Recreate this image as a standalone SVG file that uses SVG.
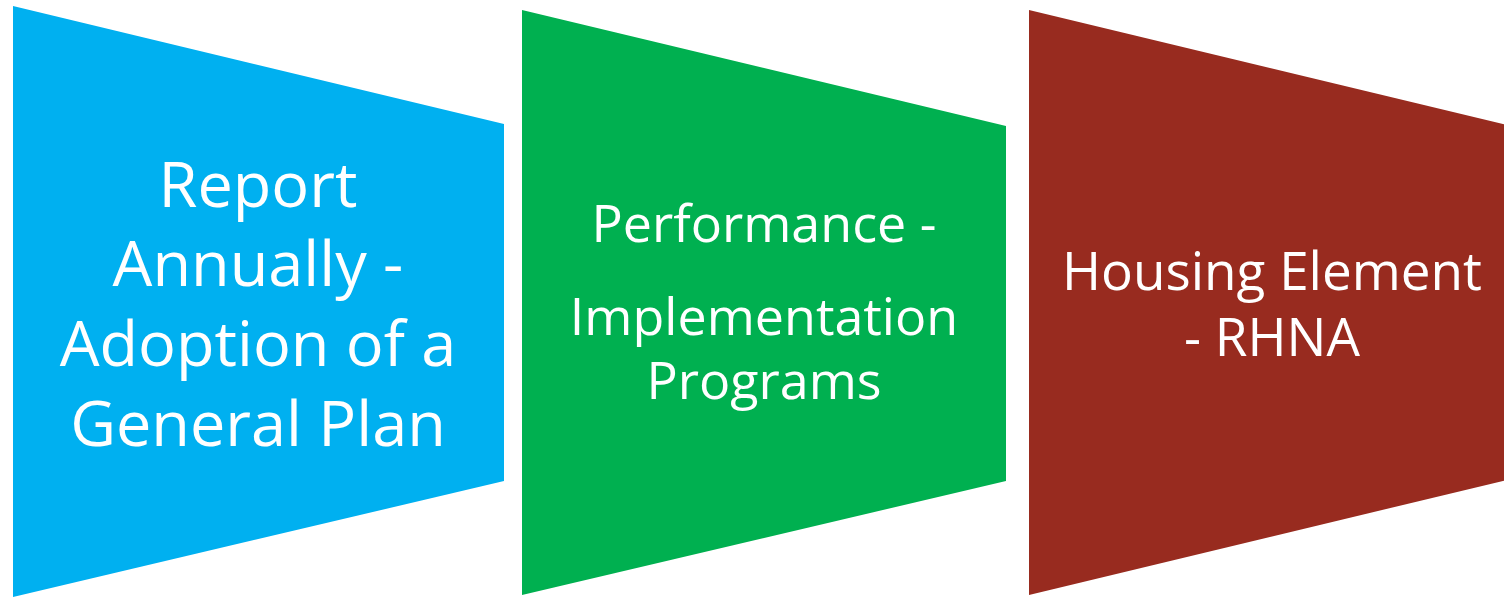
<svg xmlns="http://www.w3.org/2000/svg" width="1504" height="598" viewBox="0 0 1504 598">
  <style>
    .lbl { font-family: "Open Sans", "Noto Sans", "Liberation Sans", sans-serif; fill: #ffffff; text-anchor: middle; }
    .big { font-size: 63px; }
    .mid { font-size: 52px; }
    .red { font-size: 53px; }
  </style>
  <rect width="1504" height="598" fill="#ffffff"/>
  <g id="step-report">
    <polygon points="13,6 504,124 504,481 13,597" fill="#00b0f0"/>
    <text class="lbl big" x="258" y="207">Report</text>
    <text class="lbl big" x="258" y="286">Annually -</text>
    <text class="lbl big" x="258" y="366">Adoption of a</text>
    <text class="lbl big" x="258" y="446">General Plan</text>
  </g>
  <g id="step-performance">
    <polygon points="522,10 1006,126 1006,481 522,595" fill="#00b050"/>
    <text class="lbl mid" x="764" y="242">Performance -</text>
    <text class="lbl mid" x="764" y="335">Implementation</text>
    <text class="lbl mid" x="764" y="399">Programs</text>
  </g>
  <g id="step-housing">
    <polygon points="1029,10 1515,127 1515,478 1029,595" fill="#982b1f"/>
    <text class="lbl red" x="1272" y="290">Housing Element</text>
    <text class="lbl red" x="1272" y="356">- RHNA</text>
  </g>
  <g id="connectors"/>
</svg>
